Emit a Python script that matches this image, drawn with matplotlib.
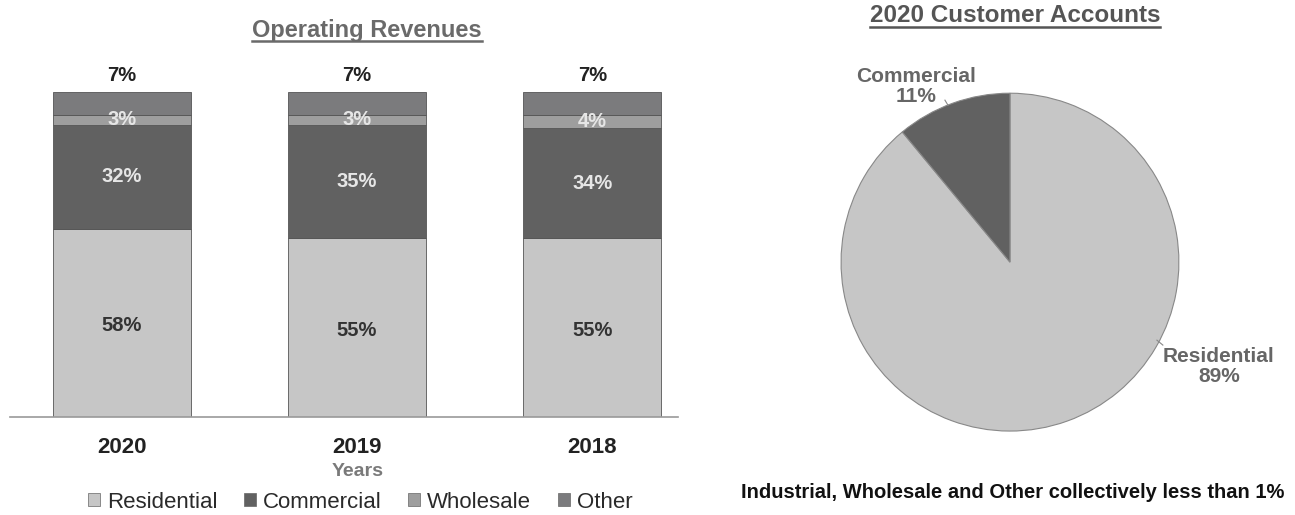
import matplotlib.pyplot as plt
from matplotlib.lines import Line2D
from matplotlib.patches import Patch

plt.rcParams['font.family'] = ['Liberation Sans', 'DejaVu Sans']

# Operating revenues (% by customer class)
years = ['2020', '2019', '2018']
residential = [58, 55, 55]
commercial = [32, 35, 34]
wholesale = [3, 3, 4]
other = [7, 7, 7]

# 2020 customer accounts
pie_labels = ['Residential', 'Commercial']
pie_values = [89, 11]

c_res = '#c6c6c6'
c_com = '#616161'
c_whl = '#9e9e9e'
c_oth = '#7b7b7d'

fig = plt.figure(figsize=(12.95, 5.15), dpi=100)

# ---- stacked bars ----
ax = fig.add_axes([0.0077, 0.190, 0.516, 0.631])
x = range(len(years))
w = 0.585
edge = dict(edgecolor='#555555', linewidth=0.6)
ax.bar(x, residential, w, color=c_res, **edge)
b1 = [r for r in residential]
ax.bar(x, commercial, w, bottom=b1, color=c_com, **edge)
b2 = [r + c for r, c in zip(residential, commercial)]
ax.bar(x, wholesale, w, bottom=b2, color=c_whl, **edge)
b3 = [a + b for a, b in zip(b2, wholesale)]
ax.bar(x, other, w, bottom=b3, color=c_oth, **edge)

fs = 14.5
for i in x:
    ax.text(i, residential[i] / 2 - 0.8, f'{residential[i]}%', ha='center', va='center',
            fontsize=fs, fontweight='bold', color='#333333')
    ax.text(i, b1[i] + commercial[i] / 2, f'{commercial[i]}%', ha='center', va='center',
            fontsize=fs, fontweight='bold', color='#e6e6e6')
    ax.text(i, b2[i] + wholesale[i] / 2, f'{wholesale[i]}%', ha='center', va='center',
            fontsize=fs, fontweight='bold', color='#e6e6e6')
    ax.text(i, b3[i] + other[i] + 2.3, f'{other[i]}%', ha='center', va='bottom',
            fontsize=fs, fontweight='bold', color='#222222')

ax.set_xlim(-0.475, 2.365)
ax.set_ylim(0, 100)
ax.set_xticks(list(x))
ax.set_xticklabels(years, fontsize=16, fontweight='bold', color='#222222')
ax.tick_params(axis='x', length=0, pad=14)
ax.set_yticks([])
for s in ['top', 'right', 'left']:
    ax.spines[s].set_visible(False)
ax.spines['bottom'].set_color('#999999')
ax.spines['bottom'].set_linewidth(1.2)

fig.text(358 / 1295, 1 - 471 / 515, 'Years', ha='center', va='center',
         fontsize=14, fontweight='bold', color='#7a7a7a')

handles = [Patch(facecolor=c, edgecolor='#666666', linewidth=0.5)
           for c in [c_res, c_com, c_whl, c_oth]]
fig.legend(handles, ['Residential', 'Commercial', 'Wholesale', 'Other'],
           loc='center', bbox_to_anchor=(360 / 1295, 1 - 502 / 515), ncol=4,
           frameon=False, fontsize=16, handlelength=0.55, handleheight=0.55,
           handletextpad=0.3, columnspacing=1.2, labelcolor='#2a2a2a',
           borderpad=0.1)

# ---- pie ----
pax = fig.add_axes([0.6494, 0.163, 0.261, 0.656])
pax.pie(pie_values, colors=[c_res, c_com], startangle=90, counterclock=False,
        wedgeprops=dict(edgecolor='#888888', linewidth=0.8))
pax.set_xlim(-1, 1)
pax.set_ylim(-1, 1)
pax.set_aspect('equal')
pax.text(-0.556, 1.04, f'{pie_labels[1]}\n{pie_values[1]}%', ha='center', va='center',
         fontsize=15, fontweight='bold', color='#666666', linespacing=1.05)
pax.plot([-0.385, -0.367], [0.959, 0.929], color='#888888', lw=0.8, clip_on=False)
pax.text(1.237, -0.62, f'{pie_labels[0]}\n{pie_values[0]}%', ha='center', va='center',
         fontsize=15, fontweight='bold', color='#666666', linespacing=1.05)
pax.plot([0.870, 0.905], [-0.462, -0.491], color='#888888', lw=0.8, clip_on=False)

fig.text(1013 / 1295, 1 - 492 / 515,
         'Industrial, Wholesale and Other collectively less than 1%',
         ha='center', va='center', fontsize=14.5, fontweight='bold', color='#111111')

# ---- underlined titles ----
t1 = fig.text(367 / 1295, 1 - 30 / 515, 'Operating Revenues', ha='center', va='center',
              fontsize=17, fontweight='bold', color='#6a6a6a')
t2 = fig.text(1015 / 1295, 1 - 16 / 515, '2020 Customer Accounts', ha='center', va='center',
              fontsize=17.5, fontweight='bold', color='#555555')
fig.canvas.draw()
r = fig.canvas.get_renderer()
for t in (t1, t2):
    bb = t.get_window_extent(r).transformed(fig.transFigure.inverted())
    yl = bb.y0 + 0.001
    fig.add_artist(Line2D([bb.x0, bb.x1], [yl, yl], transform=fig.transFigure,
                          color=t.get_color(), lw=1.8))

fig.savefig('out.png', dpi=100)
